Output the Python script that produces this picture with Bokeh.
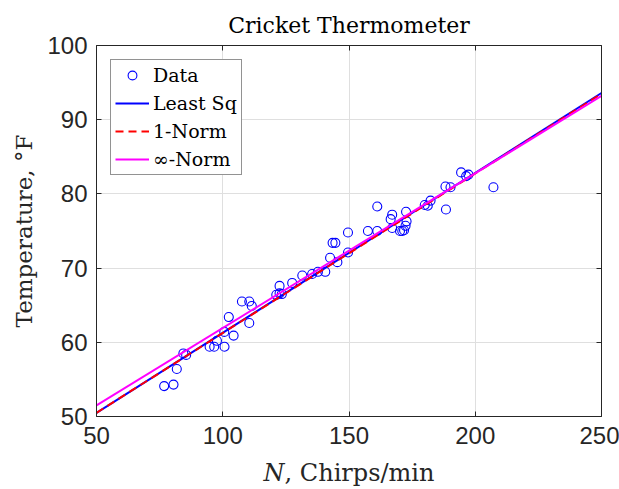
import math
from bokeh.plotting import figure
from bokeh.models import Range1d, LinearAxis, FixedTicker
from bokeh.embed import file_html
from bokeh.resources import INLINE

# ---- data ----
chirps = [76.8, 80.5, 81.8, 84.4, 85.5, 94.8, 96.6, 97.7, 100.7, 100.6,
          104.3, 102.4, 107.6, 110.5, 111.5, 110.5, 122.5, 121.2, 122.5, 123.4,
          127.5, 131.5, 135.4, 137.7, 140.6, 142.5, 145.4, 143.5, 144.6, 149.6,
          149.6, 157.5, 161.2, 161.2, 166.5, 167.1, 167.1, 170.2, 171.1, 171.8,
          172.4, 172.8, 172.6, 180.0, 181.2, 182.3, 188.4, 188.2, 190.2, 194.4,
          196.4, 197.3, 207.2]
temps = [54.1, 54.3, 56.4, 58.5, 58.3, 59.4, 59.4, 60.2, 59.4, 61.4,
         60.9, 63.4, 65.5, 65.5, 64.9, 62.6, 67.6, 66.4, 66.6, 66.5,
         68.0, 69.0, 69.2, 69.5, 69.5, 71.4, 70.8, 73.4, 73.4, 74.8,
         72.1, 75.0, 75.0, 78.3, 76.6, 77.2, 75.4, 75.0, 75.0, 75.1,
         75.7, 76.3, 77.6, 78.5, 78.4, 79.1, 77.9, 81.0, 80.9, 82.9,
         82.4, 82.6, 80.9]

fit_x = [50, 250]
least_sq_y = [50.5, 93.6]
one_norm_y = [50.5, 93.5]
inf_norm_y = [51.5, 93.2]

x_ticks = [50, 100, 150, 200, 250]
y_ticks = [50, 60, 70, 80, 90, 100]

TXT = "#262626"
SERIF = "DejaVu Serif"

p = figure(width=619, height=489,
           x_range=Range1d(50, 250), y_range=Range1d(50, 100),
           output_backend="svg", toolbar_location=None,
           min_border_left=96, min_border_right=18,
           min_border_top=45, min_border_bottom=71)
p.outline_line_color = None
p.background_fill_color = "white"
p.border_fill_color = "white"

# title
p.title.text = "Cricket Thermometer"
p.title.align = "center"
p.title.text_font = SERIF
p.title.text_font_size = "22px"
p.title.text_font_style = "normal"
p.title.text_color = "black"
p.title.standoff = 16

for ax, ticks in ((p.xaxis[0], x_ticks), (p.yaxis[0], y_ticks)):
    ax.ticker = FixedTicker(ticks=ticks)
    ax.major_tick_in = 5
    ax.major_tick_out = 0
    ax.minor_tick_line_color = None
    ax.axis_line_color = TXT
    ax.major_tick_line_color = TXT
    ax.major_label_text_font = "Liberation Sans"
    ax.major_label_text_font_size = "24px"
    ax.major_label_text_color = TXT
    ax.axis_label_text_font = SERIF
    ax.axis_label_text_font_style = "normal"
    ax.axis_label_text_color = TXT
p.xaxis[0].major_label_standoff = 10
p.yaxis[0].major_label_standoff = 9
p.xaxis[0].axis_label = "\U0001D441, Chirps/min"
p.xaxis[0].axis_label_text_font_size = "24px"
p.xaxis[0].axis_label_standoff = 12
p.yaxis[0].axis_label = "Temperature, \u00b0F"
p.yaxis[0].axis_label_text_font_size = "23px"
p.yaxis[0].axis_label_standoff = 7

# box: top and right axes with inward ticks, no labels
top_ax = LinearAxis(ticker=FixedTicker(ticks=x_ticks),
                    major_label_overrides={t: "" for t in x_ticks})
right_ax = LinearAxis(ticker=FixedTicker(ticks=y_ticks),
                      major_label_overrides={t: "" for t in y_ticks})
for ax in (top_ax, right_ax):
    ax.major_tick_in = 5
    ax.major_tick_out = 0
    ax.minor_tick_line_color = None
    ax.axis_line_color = TXT
    ax.major_tick_line_color = TXT
    ax.major_label_standoff = 0
p.add_layout(top_ax, "above")
p.add_layout(right_ax, "right")

p.xgrid.ticker = FixedTicker(ticks=x_ticks)
p.ygrid.ticker = FixedTicker(ticks=y_ticks)
p.grid.grid_line_color = "#dfdfdf"
p.grid.grid_line_width = 1

# data and fits
p.scatter(chirps, temps, marker="circle", size=9, fill_color=None,
          line_color="#0000ff", line_width=1.1, legend_label="Data")
p.line(fit_x, least_sq_y, line_color="#0000ff", line_width=2,
       legend_label="Least Sq")
p.line(fit_x, one_norm_y, line_color="#ff0000", line_width=2,
       line_dash="8 5", legend_label="1-Norm")
p.line(fit_x, inf_norm_y, line_color="#ff00ff", line_width=2,
       legend_label="\u221e-Norm")

lg = p.legend[0]
lg.location = "top_left"
lg.margin = 14
lg.padding = 4
lg.spacing = 6
lg.glyph_width = 34
lg.glyph_height = 22
lg.label_height = 22
lg.label_standoff = 4
lg.label_text_font = SERIF
lg.label_text_font_size = "19px"
lg.label_text_color = "black"
lg.label_text_baseline = "middle"
lg.border_line_color = TXT
lg.border_line_width = 1
lg.background_fill_alpha = 1.0

open("out.html", "w").write(file_html(p, INLINE))
